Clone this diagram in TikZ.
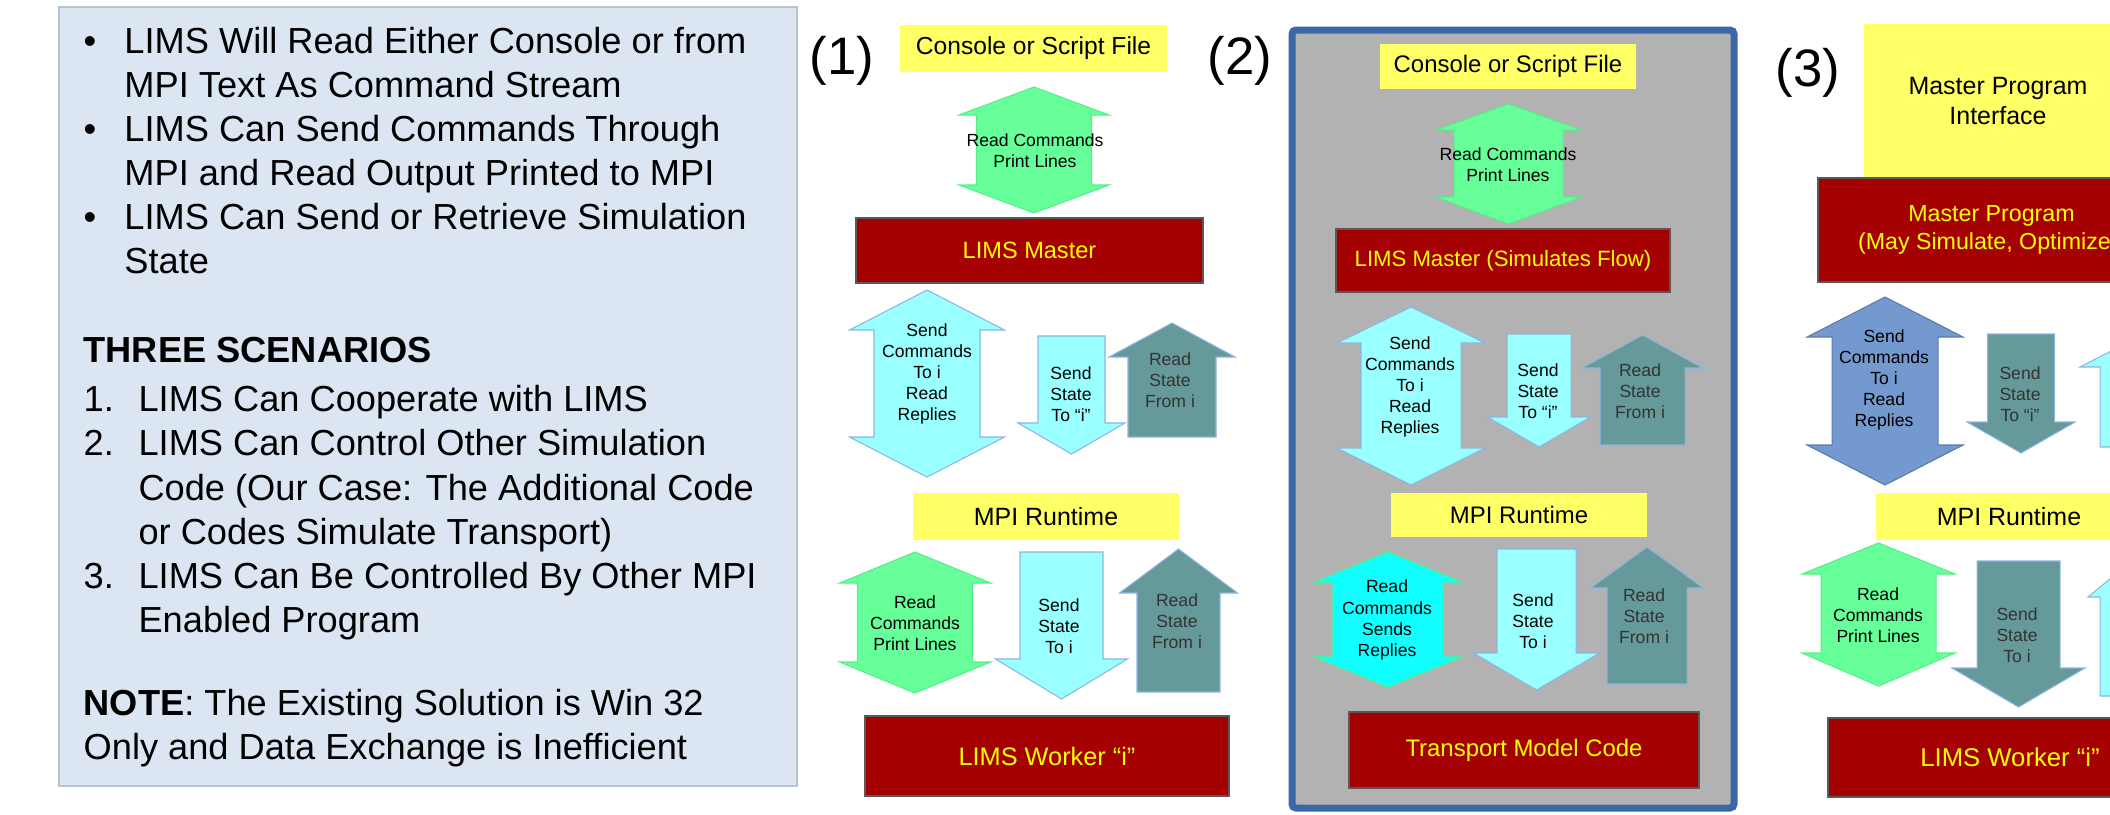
\documentclass[tikz,border=0pt]{standalone}
\usepackage{fontspec}
\setmainfont{Liberation Sans}
\definecolor{ylw}{HTML}{FFFF66}
\definecolor{dred}{HTML}{A50000}
\definecolor{ytxt}{HTML}{FFFF00}
\definecolor{grn}{HTML}{66FF99}
\definecolor{grnl}{HTML}{55EE88}
\definecolor{lcyan}{HTML}{99FFFF}
\definecolor{tealA}{HTML}{669999}
\definecolor{bcyan}{HTML}{11FFFF}
\definecolor{bcyanl}{HTML}{33FF99}
\definecolor{blueA}{HTML}{7399CF}
\definecolor{arrline}{HTML}{8EB4E3}
\definecolor{panelgray}{HTML}{B2B2B2}
\definecolor{panelblue}{HTML}{3B67A8}
\definecolor{lpanel}{HTML}{DCE6F2}
\definecolor{lpanelb}{HTML}{B9C4D0}
\newcommand{\UpArr}[7]{\path[#7] (#1,#4) -- (#1+#3,#5) -- (#1+#2,#5) -- (#1+#2,#6) -- (#1-#2,#6) -- (#1-#2,#5) -- (#1-#3,#5) -- cycle;}
\newcommand{\DownArr}[7]{\path[#7] (#1-#2,#4) -- (#1+#2,#4) -- (#1+#2,#5) -- (#1+#3,#5) -- (#1,#6) -- (#1-#3,#5) -- (#1-#2,#5) -- cycle;}
\newcommand{\DblArr}[8]{\path[#8] (#1,#4) -- (#1+#3,#5) -- (#1+#2,#5) -- (#1+#2,#6) -- (#1+#3,#6) -- (#1,#7) -- (#1-#3,#6) -- (#1-#2,#6) -- (#1-#2,#5) -- (#1-#3,#5) -- cycle;}
\newcommand{\BoxN}[7]{\node[#6, minimum width={(#4-#2)*0.01cm}, minimum height={(#5-#3)*0.01cm}] (#1) at ({(#2+#4)/2},{(#3+#5)/2}) {#7};}
\tikzset{
  ybox/.style={fill=ylw, draw=none, inner sep=0pt, align=center, text=black},
  rbox/.style={fill=dred, draw=black!65, line width=0.4pt, inner sep=0pt, align=center, text=ytxt},
  fs/.style={font=\fontsize{#1}{8.5}\selectfont},
  atxt/.style={font=\fontsize{5}{6}\selectfont, align=center, inner sep=0pt, text=black},
  ttxt/.style={atxt, text=black!80},
  garr/.style={fill=grn, draw=grnl, line width=0.3pt},
  carr/.style={fill=lcyan, draw=arrline, line width=0.3pt},
  tarr/.style={fill=tealA, draw=arrline, line width=0.3pt},
  barr/.style={fill=bcyan, draw=bcyanl, line width=0.3pt},
  blarr/.style={fill=blueA, draw=blueA!80!black, line width=0.3pt},
  lbl/.style={font=\fontsize{15}{18}\selectfont, inner sep=0pt, anchor=base},
  ltxt/.style={font=\fontsize{10.3}{12.56}\selectfont, inner sep=0pt, anchor=base west, text=black}
}
\begin{document}
\begin{tikzpicture}[x=0.01cm,y=-0.01cm]
\useasboundingbox (0,0) rectangle (2110,814);
\clip (0,0) rectangle (2110,814);
% ---------- left text panel ----------
\draw[fill=lpanel, draw=lpanelb, line width=0.5pt] (59,7) rectangle (797,786);
\node[ltxt] (bul) at (83,53) {\begin{tabular}[t]{@{}p{11.6pt}@{}l@{}}
•&LIMS Will Read Either Console or from\\
&MPI Text As Command Stream\\
•&LIMS Can Send Commands Through\\
&MPI and Read Output Printed to MPI\\
•&LIMS Can Send or Retrieve Simulation\\
&State
\end{tabular}};
\node[ltxt] (scen) at (83,362) {\begin{tabular}[t]{@{}p{15.6pt}@{}l@{}}
\multicolumn{2}{@{}l@{}}{\textbf{THREE SCENARIOS}}\\[1.6pt]
1.&LIMS Can Cooperate with LIMS\\
2.&LIMS Can Control Other Simulation\\
&Code (Our Case: The Additional Code\\
&or Codes Simulate Transport)\\
3.&LIMS Can Be Controlled By Other MPI\\
&Enabled Program
\end{tabular}};
\node[ltxt] (note) at (83,715) {\begin{tabular}[t]{@{}l@{}}
\textbf{NOTE}: The Existing Solution is Win 32\\
Only and Data Exchange is Inefficient
\end{tabular}};
% ---------- scenario 1 ----------
\node[lbl] (l1) at (842,74) {(1)};
\BoxN{cs1}{900}{25}{1167}{72}{ybox,fs=7}{Console or Script File}
\DblArr{1034}{57.5}{75}{87}{115}{185}{213}{garr}
\node[atxt] (t11) at (1035,151) {Read Commands\\Print Lines};
\BoxN{m1}{856}{218}{1203}{283}{rbox,fs=6.7}{LIMS Master}
\DblArr{927}{53}{77.5}{290}{330}{437}{477}{carr}
\node[atxt] (t12) at (927,374) {Send\\Commands\\To i\\Read\\Replies};
\DownArr{1071.5}{33.5}{53.5}{336}{423}{454}{carr}
\node[atxt] (t13) at (1071,394) {Send\\State\\To “i”};
\UpArr{1172}{44}{63}{323}{357}{437}{tarr}
\node[ttxt] (t14) at (1170,380) {Read\\State\\From i};
\BoxN{mpi1}{913}{493}{1179}{540}{ybox,fs=7.1}{MPI Runtime}
\DblArr{915}{57.5}{75.5}{552}{583}{662}{693}{garr}
\node[atxt] (t15) at (915,623) {Read\\Commands\\Print Lines};
\DownArr{1061.5}{41.5}{66}{552}{659}{699}{carr}
\node[atxt] (t16) at (1059,626) {Send\\State\\To i};
\UpArr{1178.5}{41.5}{59}{549}{593}{692}{tarr}
\node[ttxt] (t17) at (1177,621) {Read\\State\\From i};
\BoxN{w1}{865}{716}{1229}{796}{rbox,fs=7.2}{LIMS Worker “i”}
% ---------- scenario 2 ----------
\node[lbl] (l2) at (1240,74) {(2)};
\draw[fill=panelgray, draw=panelblue, line width=0.07cm, rounded corners=0.04cm] (1292,30) rectangle (1734,808);
\BoxN{cs2}{1380}{44}{1636}{89}{ybox,fs=6.8}{Console or Script File}
\DblArr{1508.5}{54.5}{72.5}{104}{130}{197}{224}{garr}
\node[atxt] (t21) at (1508,165) {Read Commands\\Print Lines};
\BoxN{m2}{1336}{229}{1670}{292}{rbox,fs=6.3}{LIMS Master (Simulates Flow)}
\DblArr{1411}{50}{74}{307}{343}{448}{485}{carr}
\node[atxt] (t22) at (1410,387) {Send\\Commands\\To i\\Read\\Replies};
\DownArr{1539}{32}{51.5}{334}{417}{447}{carr}
\node[atxt] (t23) at (1538,391) {Send\\State\\To “i”};
\UpArr{1642.5}{42.5}{60.5}{335}{368}{445}{tarr}
\node[ttxt] (t24) at (1640,391) {Read\\State\\From i};
\BoxN{mpi2}{1391}{493}{1647}{537}{ybox,fs=6.8}{MPI Runtime}
\DblArr{1388}{55}{73}{552}{582}{657}{687}{barr}
\node[atxt] (t25) at (1387,620) {Read\\Commands\\Sends\\Replies};
\DownArr{1536.5}{39.5}{63}{549}{653}{690}{carr}
\node[atxt] (t26) at (1533,621) {Send\\State\\To i};
\UpArr{1647}{40}{56.5}{547}{588}{684}{tarr}
\node[ttxt] (t27) at (1644,616) {Read\\State\\From i};
\BoxN{tm2}{1349}{712}{1699}{788}{rbox,fs=6.8}{Transport Model Code}
% ---------- scenario 3 ----------
\node[lbl] (l3) at (1808,86) {(3)};
\BoxN{mpi3i}{1864}{24}{2132}{178}{ybox,font=\fontsize{7.1}{8.3}\selectfont}{Master Program\\Interface}
\BoxN{mp3}{1818}{178}{2165}{282}{rbox,font=\fontsize{6.6}{7.9}\selectfont}{Master Program\\(May Simulate, Optimize.\phantom{)}}
\DblArr{1885}{53}{78}{297}{337}{445}{485}{blarr}
\node[atxt] (t31) at (1884,380) {Send\\Commands\\To i\\Read\\Replies};
\DownArr{2021}{33.5}{54}{334}{422}{453}{tarr}
\node[ttxt] (t32) at (2020,394) {Send\\State\\To “i”};
\UpArr{2142}{42}{62}{335}{367}{447}{carr}
\BoxN{mpi3}{1876}{493}{2142}{540}{ybox,fs=7.1}{MPI Runtime}
\DblArr{1878.5}{57.5}{76.5}{543}{574}{653}{686}{garr}
\node[atxt] (t34) at (1878,615) {Read\\Commands\\Print Lines};
\DownArr{2018.5}{41.5}{66.5}{561}{668}{707}{tarr}
\node[ttxt] (t35) at (2017,635) {Send\\State\\To i};
\UpArr{2141}{41}{53}{553}{597}{696}{carr}
\BoxN{w3}{1828}{718}{2192}{797}{rbox,fs=7.3}{LIMS Worker “i”}
\end{tikzpicture}
\end{document}
